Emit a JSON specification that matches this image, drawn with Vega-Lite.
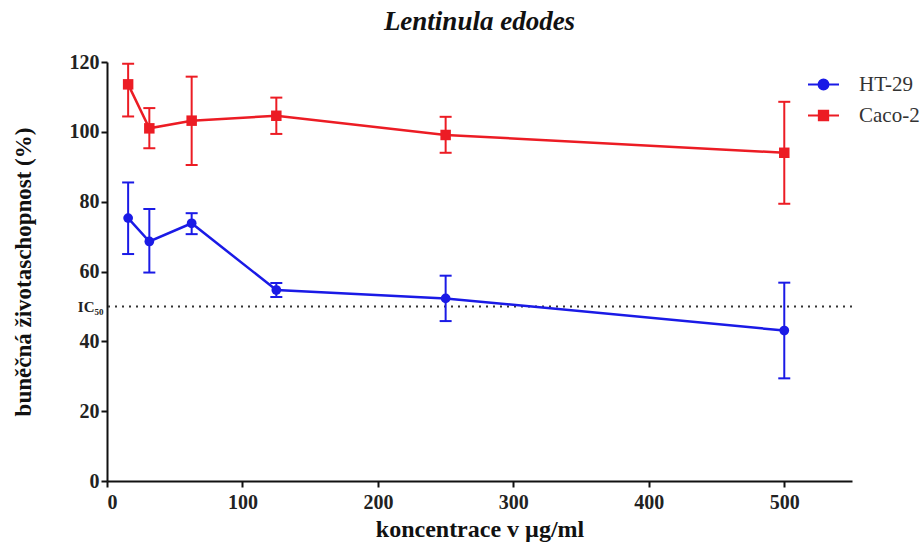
{
  "$schema": "https://vega.github.io/schema/vega-lite/v6.json",
  "autosize": "none",
  "width": 745,
  "height": 419,
  "padding": {"left": 107, "top": 62, "right": 72, "bottom": 63},
  "background": "white",
  "title": {"text": "Lentinula edodes", "font": "Liberation Serif", "fontSize": 27, "fontStyle": "italic", "fontWeight": "bold", "color": "#111", "anchor": "middle", "offset": 16},
  "config": {
    "view": {"stroke": null},
    "axis": {"labelFont": "Liberation Serif", "labelFontSize": 20, "labelFontWeight": "bold", "labelColor": "#222", "titleFont": "Liberation Serif", "titleFontSize": 24, "titleFontWeight": "bold", "titleColor": "#111", "domainColor": "#111", "domainWidth": 2, "tickColor": "#111", "tickWidth": 2, "tickSize": 6, "grid": false},
    "legend": {"padding": 0, "offset": 0}
  },
  "datasets": {
    "d": [
      {"series": "HT-29", "conc": 15.6, "mean": 75.3, "lo": 65.0, "hi": 85.5},
      {"series": "HT-29", "conc": 31.25, "mean": 68.6, "lo": 59.7, "hi": 77.9},
      {"series": "HT-29", "conc": 62.5, "mean": 73.8, "lo": 70.7, "hi": 76.7},
      {"series": "HT-29", "conc": 125, "mean": 54.7, "lo": 52.7, "hi": 56.7},
      {"series": "HT-29", "conc": 250, "mean": 52.3, "lo": 45.8, "hi": 58.8},
      {"series": "HT-29", "conc": 500, "mean": 43.1, "lo": 29.4, "hi": 56.8},
      {"series": "Caco-2", "conc": 15.6, "mean": 113.6, "lo": 104.4, "hi": 119.5},
      {"series": "Caco-2", "conc": 31.25, "mean": 101.0, "lo": 95.3, "hi": 106.8},
      {"series": "Caco-2", "conc": 62.5, "mean": 103.2, "lo": 90.5, "hi": 115.8},
      {"series": "Caco-2", "conc": 125, "mean": 104.6, "lo": 99.4, "hi": 109.8},
      {"series": "Caco-2", "conc": 250, "mean": 99.1, "lo": 94.0, "hi": 104.3},
      {"series": "Caco-2", "conc": 500, "mean": 94.0, "lo": 79.4, "hi": 108.6}
    ],
    "ic": [{"ic": 50}]
  },
  "layer": [
    {
      "data": {"name": "ic"},
      "mark": {"type": "rule", "strokeDash": [2, 5], "strokeWidth": 2, "color": "#333"},
      "encoding": {
        "y": {"field": "ic", "type": "quantitative", "scale": {"domain": [0, 120]},
          "axis": {"title": "buněčná životaschopnost (%)", "titleFontSize": 23, "values": [0, 20, 40, 50, 60, 80, 100, 120],
            "labelExpr": "datum.value == 50 ? 'IC₅₀' : datum.label",
            "labelFontSize": {"condition": {"test": "datum.value == 50", "value": 15}, "value": 20},
            "tickSize": {"condition": {"test": "datum.value == 50", "value": 0}, "value": 6},
            "labelPadding": {"condition": {"test": "datum.value == 50", "value": 4}, "value": 2},
            "titlePadding": 34}}
      }
    },
    {
      "data": {"name": "d"},
      "mark": {"type": "rule", "strokeWidth": 2},
      "encoding": {
        "x": {"field": "conc", "type": "quantitative"},
        "y": {"field": "lo", "type": "quantitative"},
        "y2": {"field": "hi"},
        "color": {"field": "series", "type": "nominal", "sort": ["HT-29", "Caco-2"], "scale": {"range": ["#1a1ae6", "#ec1c24"]}, "legend": null}
      }
    },
    {
      "data": {"name": "d"},
      "mark": {"type": "tick", "orient": "horizontal", "size": 12, "thickness": 2, "opacity": 1},
      "encoding": {
        "x": {"field": "conc", "type": "quantitative"},
        "y": {"field": "lo", "type": "quantitative"},
        "color": {"field": "series", "type": "nominal", "sort": ["HT-29", "Caco-2"], "legend": null}
      }
    },
    {
      "data": {"name": "d"},
      "mark": {"type": "tick", "orient": "horizontal", "size": 12, "thickness": 2, "opacity": 1},
      "encoding": {
        "x": {"field": "conc", "type": "quantitative"},
        "y": {"field": "hi", "type": "quantitative"},
        "color": {"field": "series", "type": "nominal", "sort": ["HT-29", "Caco-2"], "legend": null}
      }
    },
    {
      "data": {"name": "d"},
      "mark": {"type": "line", "strokeWidth": 2.5},
      "encoding": {
        "x": {"field": "conc", "type": "quantitative", "scale": {"domain": [0, 550]},
          "axis": {"title": "koncentrace v µg/ml", "values": [0, 100, 200, 300, 400, 500], "labelPadding": 5, "titlePadding": 5}},
        "y": {"field": "mean", "type": "quantitative"},
        "color": {"field": "series", "type": "nominal", "sort": ["HT-29", "Caco-2"], "legend": null}
      }
    },
    {
      "data": {"name": "d"},
      "transform": [{"filter": "datum.series == 'HT-29'"}],
      "mark": {"type": "point", "shape": "circle", "filled": true, "size": 95, "opacity": 1},
      "encoding": {
        "x": {"field": "conc", "type": "quantitative"},
        "y": {"field": "mean", "type": "quantitative"},
        "color": {"field": "series", "type": "nominal", "sort": ["HT-29", "Caco-2"], "legend": null}
      }
    },
    {
      "data": {"name": "d"},
      "transform": [{"filter": "datum.series == 'Caco-2'"}],
      "mark": {"type": "point", "shape": "square", "filled": true, "size": 110, "opacity": 1},
      "encoding": {
        "x": {"field": "conc", "type": "quantitative"},
        "y": {"field": "mean", "type": "quantitative"},
        "color": {"field": "series", "type": "nominal", "sort": ["HT-29", "Caco-2"], "legend": null}
      }
    },
    {
      "data": {"name": "d"},
      "mark": {"type": "point", "filled": true, "strokeWidth": 2, "opacity": 0},
      "encoding": {
        "x": {"field": "conc", "type": "quantitative"},
        "y": {"field": "mean", "type": "quantitative"},
        "fill": {"field": "series", "type": "nominal", "scale": {"domain": ["HT-29", "Caco-2"], "range": ["#1a1ae6", "#ec1c24"]},
          "legend": {"title": null, "orient": "none", "legendX": 700, "legendY": 6, "symbolSize": 961, "symbolStrokeWidth": 2, "symbolOpacity": 1, "labelFont": "Liberation Serif", "labelFontSize": 21, "labelColor": "#333", "labelOffset": 19, "rowPadding": 4}},
        "stroke": {"field": "series", "type": "nominal", "scale": {"domain": ["HT-29", "Caco-2"], "range": ["#1a1ae6", "#ec1c24"]},
          "legend": {"title": null, "orient": "none", "legendX": 700, "legendY": 6, "symbolSize": 961, "symbolStrokeWidth": 2, "symbolOpacity": 1, "labelFont": "Liberation Serif", "labelFontSize": 21, "labelColor": "#333", "labelOffset": 19, "rowPadding": 4}},
        "shape": {"field": "series", "type": "nominal", "scale": {"domain": ["HT-29", "Caco-2"], "range": ["M-1,0H1M0.32,0A0.32,0.32 0 1,1 -0.32,0A0.32,0.32 0 1,1 0.32,0Z", "M-1,0H1M-0.3,-0.3H0.3V0.3H-0.3Z"]},
          "legend": {"title": null, "orient": "none", "legendX": 700, "legendY": 6, "symbolSize": 961, "symbolStrokeWidth": 2, "symbolOpacity": 1, "labelFont": "Liberation Serif", "labelFontSize": 21, "labelColor": "#333", "labelOffset": 19, "rowPadding": 4}}
      }
    }
  ]
}
